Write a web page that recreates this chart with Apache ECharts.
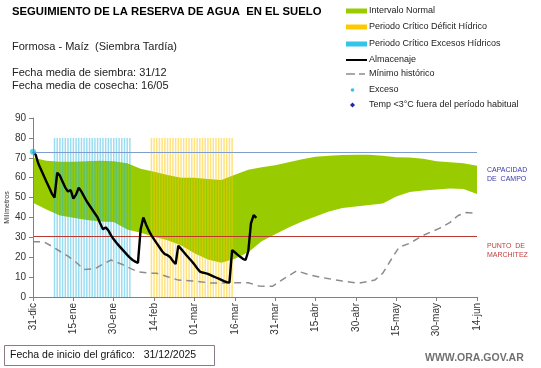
<!DOCTYPE html>
<html><head><meta charset="utf-8">
<script src="https://cdn.jsdelivr.net/npm/echarts@6/dist/echarts.min.js"></script>
<style>html,body{margin:0;padding:0;background:#fff}#c{width:541px;height:368px}</style>
</head><body><div id="c"></div>
<script>
// ---- data; x = days since 31-dic ----
const tickLabels = ['31-dic','15-ene','30-ene','14-feb','01-mar','16-mar','31-mar','15-abr','30-abr','15-may','30-may','14-jun'];
const bandDays  = [0,5,10,15,20,25,30,35,40,45,50,55,60,65,70,75,80,85,90,95,100,105,110,115,120,125,130,135,140,145,150,155,160,165];
const bandLower = [47.4,44,41,39.8,38.7,38,37.7,34,32.3,30.3,28.5,26,22,18.8,17.2,19.2,22.5,28,31.5,35,38,40.5,43,44.8,45.5,46.3,47,50.5,52.8,53.5,54,54.5,54.3,51.8];
const bandUpper = [70,68.5,68,68,68.3,68.5,68.2,67.2,64.5,63,61.3,60,60,59.3,58.8,61.5,64,65.3,66.2,67.8,69.3,70.5,71,71.4,71.5,71.5,71,70.3,70.2,69.5,68.3,67.8,67.3,66];
const storageDays = [0,1,2,3,4,5,6,7,8,9,10,11,12,13,14,15,16,17,18,19,20,21,22,23,24,25,26,27,28,29,30,31,32,33,34,35,36,37,38,39,40,41,42,43,44,45,46,47,48,49,50,51,52,53,54,55,56,57,58,59,60,61,62,63,64,65,66,67,68,69,70,71,72,73,74,75,76,77,78,79,80,81,82,83];
const storageValues = [73,71.5,67,64,61,58,55,52,50,62.5,61,58,55,53,53.8,49.5,51.5,55,53,50.5,48,46,44,42,40,37,34,35,33.5,31,29,27.3,25.7,24.2,22.7,21.2,19.8,18.6,17.8,17.2,34,40,36.5,33.5,31,29,27,25,23,21.5,21,20,18,16.6,25.8,24.2,22.6,21,19.5,18,16.3,14.5,12.8,12.3,12,11.6,11,10.4,9.8,9.2,8.6,8,7.5,7.2,23.6,22.5,21.3,20.2,19.2,18.6,23,37,41.2,39.8];
const minDays   = [0,4,7,10,13,16,19,23,26,29,33,36,39,43,46,50,54,58,62,66,70,74,80,84,89,93,98,103,109,115,121,127,130,133,136,140,145,151,155,158,161,165];
const minValues = [27.8,27.8,25.5,23,20.5,17.5,13.8,14.2,16.5,18.6,16.5,14.5,12.7,12,11.9,10.2,8.5,8.2,7.7,7,7,7.2,7.2,5.5,5.4,9,13.2,11,9.4,8,6.9,8.5,12,18.6,25,27,31,34.5,37.5,41,42.5,42];
const excessDays  = [8,9,10,11,12,13,14,15,16,17,18,19,20,21,22,23,24,25,26,27,28,29,30,31,32,33,34,35,36];
const deficitDays = [44,45,46,47,48,49,50,51,52,53,54,55,56,57,58,59,60,61,62,63,64,65,66,67,68,69,70,71,72,73,74];
const criticalTop = 80;
const fieldCapacity = 73;
const wiltingPoint = 30.3;
const excesoDays = [0];
const excesoValues = [73];
const legendNames = ['Intervalo Normal','Periodo Crítico Déficit Hídrico','Periodo Crítico Excesos Hídricos','Almacenaje','Mínimo histórico','Exceso','Temp <3°C fuera del período habitual'];

// ---- build series data ----
const upperData = bandDays.map((d,i)=>[d,bandUpper[i]]);
const lowerData = bandDays.map((d,i)=>[d,bandLower[i]]);
const storageData = storageDays.map((d,i)=>[d,storageValues[i]]);
const minData = minDays.map((d,i)=>[d,minValues[i]]);
const excessBars = excessDays.map(d=>[d,criticalTop]);
const deficitBars = deficitDays.map(d=>[d,criticalTop]);
const excesoData = excesoDays.map((d,i)=>[d,excesoValues[i]]);

const FF = 'Liberation Sans, Arial, sans-serif';
const GREEN='#99cc00', YELLOW='#ffc800', CYAN='#33c4ea', BLUE='#1a2aa8';

// legend drawn as graphics
const legendX = 346, legendY = [11,27,44,60,74,90,105];
const legendGraphics = [];
legendNames.forEach((name,i)=>{
  const y = legendY[i];
  if (i<3) legendGraphics.push({type:'rect', shape:{x:legendX, y:y-2.5, width:21, height:5}, style:{fill:[GREEN,YELLOW,CYAN][i]}});
  else if (i===3) legendGraphics.push({type:'line', shape:{x1:legendX, y1:y, x2:legendX+21, y2:y}, style:{stroke:'#000', lineWidth:2}});
  else if (i===4) {
    legendGraphics.push({type:'line', shape:{x1:legendX, y1:y, x2:legendX+9, y2:y}, style:{stroke:'#8c8c8c', lineWidth:1.5}});
    legendGraphics.push({type:'line', shape:{x1:legendX+13, y1:y, x2:legendX+19, y2:y}, style:{stroke:'#8c8c8c', lineWidth:1.5}});
  }
  else if (i===5) legendGraphics.push({type:'circle', shape:{cx:legendX+6.5, cy:y, r:1.8}, style:{fill:CYAN}});
  else legendGraphics.push({type:'polygon', shape:{points:[[legendX+6.5,y-2.5],[legendX+9,y],[legendX+6.5,y+2.5],[legendX+4,y]]}, style:{fill:BLUE}});
  legendGraphics.push({type:'text', x:legendX+23, y:y, style:{text:name, font:'9px '+FF, fill:'#222', verticalAlign:'middle'}});
});

const chart = echarts.init(document.getElementById('c'), null, {renderer:'canvas'});
chart.setOption({
  animation:false,
  backgroundColor:'#fff',
  grid:{left:33, right:64, top:118, bottom:71, containLabel:false, outerBoundsMode:'none'},
  xAxis:{type:'value', min:0, max:165, interval:15, z:10,
    axisLine:{show:true, lineStyle:{color:'#808080', width:1}},
    axisTick:{show:true, length:4, lineStyle:{color:'#808080'}},
    splitLine:{show:false},
    axisLabel:{rotate:90, fontSize:10, fontFamily:FF, color:'#333', margin:6,
      formatter:v=>tickLabels[Math.round(v/15)]||''}},
  yAxis:{type:'value', min:0, max:90, interval:10, z:10,
    name:'Milímetros', nameLocation:'middle', nameGap:22, nameRotate:90, nameMoveOverlap:false,
    nameTextStyle:{fontSize:7, fontFamily:FF, color:'#333'},
    axisLine:{show:true, lineStyle:{color:'#808080', width:1}},
    axisTick:{show:true, length:4, lineStyle:{color:'#808080'}},
    splitLine:{show:false},
    axisLabel:{fontSize:10, fontFamily:FF, color:'#333', margin:7}},
  series:[
    {name:'Intervalo Normal', type:'line', data:upperData, symbol:'none', silent:true, z:1,
      lineStyle:{width:0, opacity:0}, areaStyle:{color:GREEN, opacity:1, origin:'start'}},
    {name:'bandMask', type:'line', data:lowerData, symbol:'none', silent:true, z:2,
      lineStyle:{width:0, opacity:0}, areaStyle:{color:'#ffffff', opacity:1, origin:'start'}},
    {name:'Periodo Crítico Excesos Hídricos', type:'bar', data:excessBars, barWidth:1.5, barGap:'-100%',
      itemStyle:{color:'#1fb4e0', opacity:0.45}, z:4},
    {name:'Periodo Crítico Déficit Hídrico', type:'bar', data:deficitBars, barWidth:1.5, barGap:'-100%',
      itemStyle:{color:YELLOW, opacity:0.5}, z:4},
    {name:'Mínimo histórico', type:'line', data:minData, symbol:'none',
      lineStyle:{color:'#8c8c8c', width:1.5, type:[7,5]}, z:5,
      markLine:{silent:true, symbol:'none', label:{show:false},
        data:[{yAxis:fieldCapacity, lineStyle:{color:'#7f9ccc', width:1, type:'solid'}},
              {yAxis:wiltingPoint, lineStyle:{color:'#b83a32', width:1, type:'solid'}}]}},
    {name:'Almacenaje', type:'line', data:storageData, symbol:'none',
      lineStyle:{color:'#000', width:2.4}, z:6},
    {name:'Exceso', type:'scatter', data:excesoData, symbol:'circle', symbolSize:6,
      itemStyle:{color:CYAN}, z:7},
    {name:'Temp <3°C fuera del período habitual', type:'scatter', data:[], symbol:'diamond', symbolSize:6,
      itemStyle:{color:BLUE}, z:7}
  ],
  graphic:[
    {type:'text', left:12, top:6, style:{text:'SEGUIMIENTO DE LA RESERVA DE AGUA  EN EL SUELO', font:'bold 11.3px '+FF, fill:'#000'}},
    {type:'text', left:12, top:41, style:{text:'Formosa - Maíz  (Siembra Tardía)', font:'11px '+FF, fill:'#222'}},
    {type:'text', left:12, top:67, style:{text:'Fecha media de siembra: 31/12', font:'11px '+FF, fill:'#222'}},
    {type:'text', left:12, top:80, style:{text:'Fecha media de cosecha: 16/05', font:'11px '+FF, fill:'#222'}},
    {type:'text', left:487, top:166, style:{text:'CAPACIDAD\nDE  CAMPO', font:'7px '+FF, fill:'#3a3aa8', lineHeight:9}},
    {type:'text', left:487, top:242, style:{text:'PUNTO  DE\nMARCHITEZ', font:'7px '+FF, fill:'#c04040', lineHeight:9}},
    {type:'rect', shape:{x:4.5, y:345.5, width:210, height:20}, style:{fill:'#fff', stroke:'#8a7a8a', lineWidth:1}},
    {type:'text', left:10, top:350, style:{text:'Fecha de inicio del gráfico:   31/12/2025', font:'10.5px '+FF, fill:'#111'}},
    {type:'text', left:425, top:353, style:{text:'WWW.ORA.GOV.AR', font:'bold 10.5px '+FF, fill:'#707070'}}
  ].concat(legendGraphics)
});
</script></body></html>
